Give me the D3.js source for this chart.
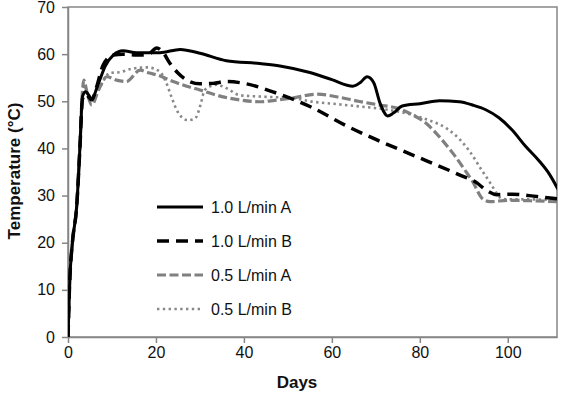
<!DOCTYPE html>
<html>
<head>
<meta charset="utf-8">
<script src="https://cdn.jsdelivr.net/npm/d3@7"></script>
<style>
  body { margin: 0; background: #fff; }
  text { font-family: Arial, "Liberation Sans", sans-serif; }
</style>
</head>
<body>
<div id="graph"></div>
<script>
// series data (days, °C)
const daysA10 = [0, 0.4, 1, 2, 2.7, 3.3, 4, 5.4, 7, 8.5, 10.3, 12.5, 15.6, 20.9, 25.5, 30, 36, 43.6, 48.2, 55, 60, 64.8, 66.5, 68, 69.5, 71, 72.7, 74, 76, 80, 84.5, 89, 92, 95, 98, 101, 104, 107, 109.5, 111.5];
const tempA10 = [0, 12, 20, 28, 40, 51, 52, 50.6, 54, 57.5, 59.8, 60.7, 60.3, 60.3, 61, 60.2, 58.6, 58, 57.5, 56.1, 54.6, 53.2, 54, 55.2, 54, 49.5, 46.9, 47.5, 49, 49.5, 50.1, 49.9, 49.2, 48.2, 46.5, 43.9, 40.5, 37.5, 34.5, 31.2];

const daysB10 = [0, 0.4, 1, 2, 2.7, 3.3, 4, 5.4, 6.5, 8, 10.3, 12.5, 15.6, 18, 20.2, 21.5, 23.2, 25, 27, 30, 33, 36, 40.6, 46.6, 55, 63.3, 70, 78.4, 89, 93, 95, 97.5, 101, 106.6, 111.5];
const tempB10 = [0, 12, 20, 28, 40, 50.5, 51.5, 50.3, 53, 57.7, 59.8, 60, 59.8, 59.8, 61.3, 60.5, 58, 56, 54.5, 53.7, 53.8, 54.2, 53.7, 52, 48.9, 44.8, 41.9, 38.6, 34.4, 32.7, 31.2, 30.2, 30.3, 29.8, 29.3];

const daysA05 = [0, 0.4, 1, 2, 2.7, 3.3, 3.6, 4.3, 5.4, 7, 8.8, 11, 13.3, 16.4, 18.5, 20.2, 23.9, 27, 30, 35, 39, 43.6, 47, 51, 56.6, 62, 66, 70.9, 75, 78.4, 81.5, 84.5, 87.5, 90.7, 92, 94.3, 96, 100, 105, 111.5];
const tempA05 = [0, 12, 20, 28, 40, 52.4, 54.5, 52, 49.2, 52.5, 55.2, 54.5, 54.2, 56.6, 56, 55.6, 54.2, 53.2, 52.4, 51, 50.3, 49.9, 50.2, 50.7, 51.5, 50.8, 50, 49.2, 48.5, 47.1, 45.3, 42.4, 39, 34.8, 33, 29.3, 28.7, 29, 28.9, 28.7];

const daysB05 = [0, 0.4, 1, 2, 2.7, 3.3, 3.8, 4.5, 5.4, 7, 9.5, 12, 14, 17.9, 20.9, 22.4, 23.5, 24.7, 26, 27.3, 28.5, 29.2, 30.2, 31.1, 33.8, 36, 39, 43.6, 51, 55.7, 60, 66.4, 72, 78.4, 82, 86, 89, 91.4, 94, 96, 97.5, 98.5, 100, 105, 111.5];
const tempB05 = [0, 12, 20, 28, 40, 51, 53.5, 51, 50, 52.5, 56, 56.2, 56.8, 57.2, 56.3, 53.8, 51, 48.2, 46.5, 46, 46.2, 46.7, 49.5, 52.4, 53.5, 52.8, 51.3, 51, 50.7, 49.9, 49.5, 48.9, 48.3, 47.1, 46, 44.3, 42, 39.3, 35.5, 32.7, 30.5, 29.4, 29.2, 29.2, 29];

const seriesNames = ["1.0 L/min A", "1.0 L/min B", "0.5 L/min A", "0.5 L/min B"];
const xTicks = [0, 20, 40, 60, 80, 100];
const yTicks = [0, 10, 20, 30, 40, 50, 60, 70];

const width = 561;
const height = 393;
const margin = { top: 7, right: 4, bottom: 56, left: 68 };

const svg = d3.select("#graph").append("svg")
    .attr("width", width)
    .attr("height", height);

const x = d3.scaleLinear()
    .domain([0, 111.2])
    .range([margin.left, width - margin.right]);

const y = d3.scaleLinear()
    .domain([0, 70])
    .range([height - margin.bottom, margin.top]);

const styles = [
    { stroke: "#000", width: 3, dash: null },
    { stroke: "#000", width: 3.5, dash: "12,7" },
    { stroke: "#808080", width: 3.2, dash: "9,3.5" },
    { stroke: "#888", width: 2.6, dash: "2.4,3.4" }
];

const allSeries = [
    { days: daysA10, temps: tempA10 },
    { days: daysB10, temps: tempB10 },
    { days: daysA05, temps: tempA05 },
    { days: daysB05, temps: tempB05 }
].map((s, i) => ({
    name: seriesNames[i],
    style: styles[i],
    values: s.days.map((d, j) => ({ day: d, temp: s.temps[j] }))
}));

// Plot frame
svg.append("rect")
    .attr("x", margin.left)
    .attr("y", margin.top)
    .attr("width", width - margin.left - margin.right)
    .attr("height", height - margin.top - margin.bottom)
    .attr("fill", "none")
    .attr("stroke", "#868686")
    .attr("stroke-width", 1.5);

// Axes
const xAxis = svg.append("g")
    .attr("transform", `translate(0,${height - margin.bottom})`)
    .call(d3.axisBottom(x).tickValues(xTicks).tickSize(6).tickSizeOuter(0).tickPadding(4));

const yAxis = svg.append("g")
    .attr("transform", `translate(${margin.left},0)`)
    .call(d3.axisLeft(y).tickValues(yTicks).tickSize(6).tickSizeOuter(0).tickPadding(7));

[xAxis, yAxis].forEach(g => {
    g.select(".domain").attr("stroke", "#868686").attr("stroke-width", 1.5);
    g.selectAll(".tick line").attr("stroke", "#868686").attr("stroke-width", 1.5);
    g.selectAll(".tick text")
        .attr("fill", "#111")
        .attr("font-size", "16px")
        .attr("font-family", "Arial, 'Liberation Sans', sans-serif");
});

const lineGen = d3.line()
    .curve(d3.curveMonotoneX)
    .x(d => x(d.day))
    .y(d => y(d.temp));

const plot = svg.append("g");
plot.append("clipPath").attr("id", "clip")
    .append("rect")
    .attr("x", margin.left)
    .attr("y", margin.top)
    .attr("width", width - margin.left - margin.right)
    .attr("height", height - margin.top - margin.bottom);

// draw back to front: dotted, gray dashed, dashed, solid
plot.selectAll(".line")
    .data(allSeries.slice().reverse())
    .enter()
    .append("path")
    .attr("class", "line")
    .attr("clip-path", "url(#clip)")
    .attr("d", d => lineGen(d.values))
    .attr("fill", "none")
    .attr("stroke", d => d.style.stroke)
    .attr("stroke-width", d => d.style.width)
    .attr("stroke-dasharray", d => d.style.dash)
    .attr("stroke-linejoin", "round");

// Legend
const legend = svg.append("g").attr("transform", "translate(157,207)");
const rows = legend.selectAll("g")
    .data(allSeries)
    .enter()
    .append("g")
    .attr("transform", (d, i) => `translate(0,${i * 34})`);

rows.append("line")
    .attr("x1", 0).attr("x2", 46)
    .attr("y1", 0).attr("y2", 0)
    .attr("stroke", d => d.style.stroke)
    .attr("stroke-width", d => d.style.width)
    .attr("stroke-dasharray", d => d.style.dash);

rows.append("text")
    .attr("x", 54)
    .attr("y", 6)
    .attr("font-size", "16px")
    .attr("fill", "#111")
    .text(d => d.name);

// Axis titles
svg.append("text")
    .attr("x", 297)
    .attr("y", 388)
    .attr("text-anchor", "middle")
    .attr("font-size", "17px")
    .attr("font-weight", "bold")
    .attr("fill", "#111")
    .text("Days");

svg.append("text")
    .attr("transform", "translate(20,171) rotate(-90)")
    .attr("text-anchor", "middle")
    .attr("font-size", "17px")
    .attr("font-weight", "bold")
    .attr("fill", "#111")
    .text("Temperature (°C)");
</script>
</body>
</html>
